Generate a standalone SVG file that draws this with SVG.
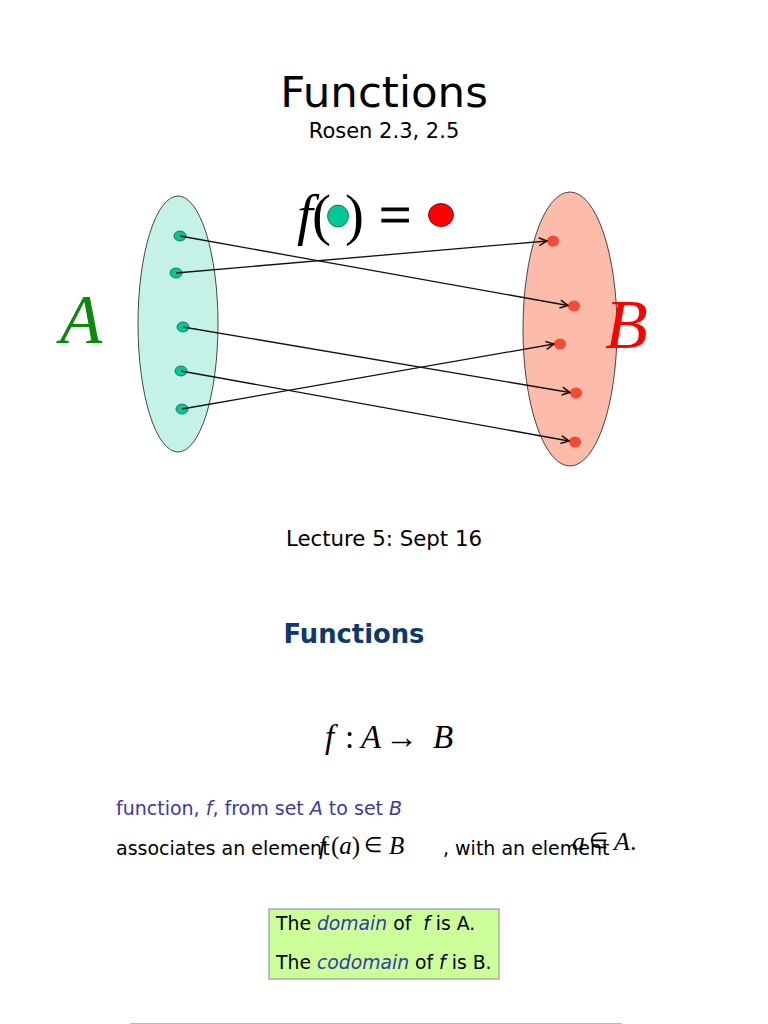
<svg xmlns="http://www.w3.org/2000/svg" width="768" height="1024" viewBox="0 0 768 1024">
<defs>
<style>
.s{font-family:"DejaVu Sans",sans-serif}
.m{font-family:"Liberation Serif","Times New Roman",serif;font-style:italic}
.r{font-family:"Liberation Serif","Times New Roman",serif}
.blue{fill:#3a3aa8}
.ga{fill:#00c896;stroke:#1a5a48;stroke-width:0.8}
.rb{fill:#f44a36}
.cn{stroke:#111;stroke-width:1.3;fill:none;marker-end:url(#ah)}
</style>
<marker id="ah" viewBox="0 0 10 10" refX="9" refY="5" markerWidth="10" markerHeight="10" markerUnits="userSpaceOnUse" orient="auto">
<path d="M1,1 L9,5 L1,9" fill="none" stroke="#2a1010" stroke-width="1.6"/>
</marker>
</defs>
<rect width="768" height="1024" fill="#fff"/>
<g id="title">
<text x="384" y="107" text-anchor="middle" class="s" font-size="43.5">Functions</text>
<text x="384" y="138" text-anchor="middle" class="s" font-size="21">Rosen 2.3, 2.5</text>
</g>
<g id="formula">
<text x="297" y="234" class="m" font-size="57">f</text>
<text x="312" y="234" class="r" font-size="57">(</text>
<ellipse cx="338" cy="216" rx="10.5" ry="11" class="ga"/>
<text x="345" y="234" class="r" font-size="57">)</text>
<text x="379" y="234" class="r" font-size="57" stroke="#000" stroke-width="1">=</text>
<ellipse cx="441" cy="215" rx="12.5" ry="11.5" fill="#f00" stroke="#600" stroke-width="0.8"/>
</g>
<g id="setA">
<ellipse cx="178" cy="324" rx="40" ry="128" fill="#c5f2e6" stroke="#333" stroke-width="0.9"/>
<text x="60" y="343" class="m" font-size="69" fill="#0a8a0a">A</text>
<ellipse cx="180" cy="236" rx="6" ry="5" class="ga"/>
<ellipse cx="176" cy="273" rx="6" ry="5" class="ga"/>
<ellipse cx="183" cy="327" rx="6" ry="5" class="ga"/>
<ellipse cx="181" cy="371" rx="6" ry="5" class="ga"/>
<ellipse cx="182" cy="409" rx="6" ry="5" class="ga"/>
</g>
<g id="setB">
<ellipse cx="570" cy="329" rx="47" ry="137" fill="#fdbba9" stroke="#333" stroke-width="0.9"/>
<text x="605" y="348" class="m" font-size="70" fill="#f00">B</text>
<ellipse cx="553" cy="241" rx="6" ry="5.5" class="rb"/>
<ellipse cx="574" cy="306" rx="6" ry="5.5" class="rb"/>
<ellipse cx="560" cy="344" rx="6" ry="5.5" class="rb"/>
<ellipse cx="576" cy="393" rx="6" ry="5.5" class="rb"/>
<ellipse cx="575" cy="442" rx="6" ry="5.5" class="rb"/>
</g>
<g id="connectors">
<line x1="180" y1="236" x2="568" y2="305.5" class="cn"/>
<line x1="176" y1="273" x2="547" y2="241" class="cn"/>
<line x1="183" y1="327" x2="570" y2="392.5" class="cn"/>
<line x1="181" y1="371" x2="569" y2="441" class="cn"/>
<line x1="182" y1="409" x2="554" y2="344" class="cn"/>
</g>
<g id="lecture">
<text x="384" y="546" text-anchor="middle" class="s" font-size="21.3">Lecture 5: Sept 16</text>
</g>
<g id="heading">
<text x="354" y="643" text-anchor="middle" class="s" font-size="25.8" font-weight="bold" fill="#0a3a6e">Functions</text>
</g>
<g id="def">
<text x="325" y="748" class="m" font-size="33">f</text>
<text x="345" y="748" class="r" font-size="33">:</text>
<text x="361" y="748" class="m" font-size="33">A</text>
<text x="385" y="748" class="r" font-size="33">→</text>
<text x="433" y="748" class="m" font-size="33">B</text>
<text x="116" y="815" class="s blue" font-size="19">function, <tspan font-style="italic">f</tspan>, from set <tspan font-style="italic">A</tspan> to set <tspan font-style="italic">B</tspan></text>
<text x="116" y="855" class="s" font-size="19">associates an element</text>
<text x="319" y="854" class="m" font-size="25">f</text>
<text x="331" y="854" class="r" font-size="25">(<tspan class="m">a</tspan>)</text>
<text x="364" y="852" class="r" font-size="21">∈</text>
<text x="389" y="854" class="m" font-size="25">B</text>
<text x="443" y="855" class="s" font-size="19">, with an element</text>
<text x="572" y="850" class="m" font-size="26">a</text>
<text x="589" y="848" class="r" font-size="22">∈</text>
<text x="614" y="850" class="m" font-size="26">A<tspan font-style="normal">.</tspan></text>
</g>
<g id="box">
<rect x="269" y="909" width="230" height="70" fill="#ccff99" stroke="#888" stroke-width="1"/>
<text x="276" y="930" class="s" font-size="18.8">The <tspan class="blue" font-style="italic">domain</tspan> of &#160;<tspan font-style="italic">f</tspan> is A.</text>
<text x="276" y="969" class="s" font-size="18.8">The <tspan class="blue" font-style="italic">codomain</tspan> of <tspan font-style="italic">f</tspan> is B.</text>
</g>
<line x1="130" y1="1023.5" x2="622" y2="1023.5" stroke="#bbb" stroke-width="1"/>
</svg>
